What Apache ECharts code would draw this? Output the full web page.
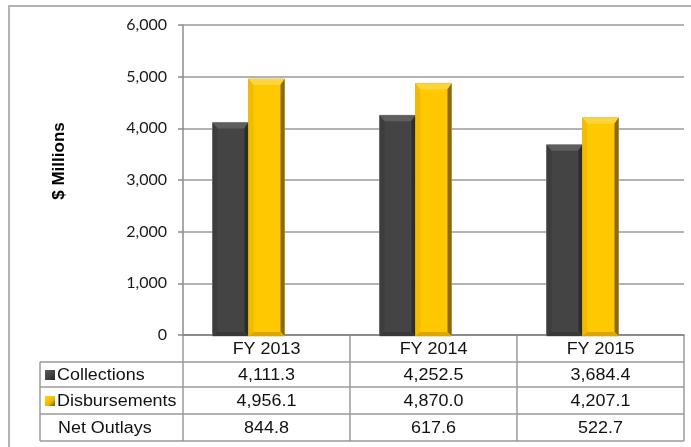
<!DOCTYPE html>
<html>
<head>
<meta charset="utf-8">
<script src="https://cdn.jsdelivr.net/npm/echarts@6/dist/echarts.min.js"></script>
<style>
  html, body { margin: 0; padding: 0; background: #ffffff; }
  #chart { width: 691px; height: 447px; }
</style>
</head>
<body>
<div id="chart"></div>
<script>
// Cash flows by fiscal year, $ millions
const categories = ['FY 2013', 'FY 2014', 'FY 2015'];
const collections = [4111.3, 4252.5, 3684.4];
const disbursements = [4956.1, 4870.0, 4207.1];
const netOutlays = [844.8, 617.6, 522.7];
const rowLabels = ['Collections', 'Disbursements', 'Net Outlays'];

const chart = echarts.init(document.getElementById('chart'), null, { renderer: 'canvas' });

const GRID = { left: 183, right: 7, top: 25, bottom: 112 };
const W = 691, H = 447;
const TABLE_FONT = '16px "Liberation Sans", Arial, sans-serif';
const STRETCH = 1.12;
const LINE = '#9a9a9a';
const BAR_W = 36;
const BEVEL = 5;

// bevelled column palettes: body, top, left, right, bottom, outline
const PALETTES = [
  { body: '#444444', top: '#5e5e5e', left: '#3d3d3d', right: '#2c2c2c', bottom: '#383838', edge: 'rgba(150,150,150,0.7)' },
  { body: '#ffc800', top: '#ffd53a', left: '#f2bb00', right: '#8c6a00', bottom: '#dca600', edge: 'rgba(175,155,95,0.6)' }
];

const fmtAxis = v => v.toLocaleString('en-US');
const fmtCell = v => v.toLocaleString('en-US', { minimumFractionDigits: 1, maximumFractionDigits: 1 });

// Columns sit left of the category centre, as on a receding floor:
// slot 0 spans [-1.5w, -0.5w], slot 1 spans [-0.5w, +0.5w].
function bevelBar(slot) {
  const p = PALETTES[slot];
  return function (params, api) {
    const base = api.coord([api.value(0), 0]);
    const top = api.coord([api.value(0), api.value(1)]);
    const x0 = base[0] - 1.5 * BAR_W + slot * BAR_W;
    const x1 = x0 + BAR_W;
    const ty = top[1], by = base[1] + 1;
    const b = BEVEL;
    const poly = (pts, fill) => ({ type: 'polygon', shape: { points: pts }, style: { fill: fill } });
    return {
      type: 'group',
      children: [
        { type: 'rect', shape: { x: x0, y: ty, width: BAR_W, height: by - ty },
          style: { fill: p.body, stroke: p.edge, lineWidth: 1 } },
        poly([[x0, ty], [x1, ty], [x1 - b, ty + b + 1], [x0 + b, ty + b + 1]], p.top),
        poly([[x0, ty], [x0 + b, ty + b + 1], [x0 + b, by - b + 1], [x0, by]], p.left),
        poly([[x1, ty], [x1, by], [x1 - b + 1, by - b + 1], [x1 - b + 1, ty + b + 1]], p.right),
        poly([[x0, by], [x0 + b, by - b + 1], [x1 - b, by - b + 1], [x1, by]], p.bottom)
      ]
    };
  };
}

chart.setOption({
  animation: false,
  backgroundColor: '#ffffff',
  grid: { left: GRID.left, right: GRID.right, top: GRID.top, bottom: GRID.bottom, containLabel: false },
  xAxis: {
    type: 'category',
    data: categories,
    axisLine: { show: true, lineStyle: { color: '#808080', width: 1.5 } },
    axisTick: { show: false },
    axisLabel: { show: false },
    splitLine: { show: false }
  },
  yAxis: {
    type: 'value',
    min: 0,
    max: 6000,
    interval: 1000,
    axisLine: { show: true, lineStyle: { color: '#8c8c8c', width: 1.5 } },
    axisTick: { show: true, length: 5, lineStyle: { color: '#8c8c8c', width: 1.5 } },
    axisLabel: {
      margin: 16,
      color: '#1a1a1a',
      fontSize: 16,
      fontFamily: 'Lato, "Liberation Sans", sans-serif',
      formatter: fmtAxis
    },
    splitLine: { show: true, lineStyle: { color: '#9a9a9a', width: 1.5 } }
  },
  series: [
    {
      name: 'Collections', type: 'custom', renderItem: bevelBar(0),
      encode: { x: 0, y: 1 }, z: 3,
      data: collections.map((v, i) => [i, v])
    },
    {
      name: 'Disbursements', type: 'custom', renderItem: bevelBar(1),
      encode: { x: 0, y: 1 }, z: 3,
      data: disbursements.map((v, i) => [i, v])
    }
  ]
});

function buildTable() {
  const g = [];
  const left = GRID.left, right = W - GRID.right;
  const y0 = H - GRID.bottom;            // axis baseline
  const rows = [y0, 362, 387, 414, 441];  // row edges
  const labelLeft = 40;
  const band = (right - left) / categories.length;

  // chart frame
  g.push({ type: 'rect', shape: { x: 9, y: 6, width: 720, height: 500 },
    style: { fill: 'none', stroke: '#b4b4b4', lineWidth: 2 }, silent: true });

  // horizontal rules
  for (let i = 1; i < rows.length; i++) {
    g.push({ type: 'line', shape: { x1: labelLeft, y1: rows[i], x2: right, y2: rows[i] },
      style: { stroke: LINE, lineWidth: 1.5 }, silent: true });
  }
  // vertical rules
  g.push({ type: 'line', shape: { x1: labelLeft, y1: rows[1], x2: labelLeft, y2: rows[4] },
    style: { stroke: LINE, lineWidth: 1.5 }, silent: true });
  for (let c = 0; c <= categories.length; c++) {
    const x = left + band * c;
    g.push({ type: 'line', shape: { x1: x, y1: y0, x2: x, y2: rows[4] },
      style: { stroke: LINE, lineWidth: 1.5 }, silent: true });
  }

  const cell = (text, x, y, align) => ({
    type: 'text', x: x, y: y, scaleX: STRETCH, silent: true,
    style: { text: text, font: TABLE_FONT, fill: '#111111', align: align, verticalAlign: 'middle' }
  });

  const mid = i => (rows[i] + rows[i + 1]) / 2;
  const columns = [collections, disbursements, netOutlays];

  categories.forEach((cat, c) => {
    const cx = chart.convertToPixel({ xAxisIndex: 0 }, cat);
    g.push(cell(cat, cx, mid(0) + 1, 'center'));
    columns.forEach((vals, r) => g.push(cell(fmtCell(vals[c]), cx, mid(r + 1) + 1, 'center')));
  });

  // row headers with legend keys
  g.push({ type: 'rect', shape: { x: 45, y: mid(1) - 4.5, width: 10, height: 10 },
    style: { fill: new echarts.graphic.LinearGradient(0, 0, 1, 1, [
      { offset: 0, color: '#5a5a5a' }, { offset: 0.5, color: '#444444' }, { offset: 1, color: '#262626' }
    ]) }, silent: true });
  g.push({ type: 'rect', shape: { x: 45, y: mid(2) - 4.5, width: 10, height: 10 },
    style: { fill: new echarts.graphic.LinearGradient(0, 0, 1, 1, [
      { offset: 0, color: '#ffd21a' }, { offset: 0.6, color: '#f0b800' }, { offset: 1, color: '#6e5200' }
    ]) }, silent: true });
  g.push(cell(rowLabels[0], 57, mid(1) + 1, 'left'));
  g.push(cell(rowLabels[1], 57, mid(2) + 1, 'left'));
  g.push(cell(rowLabels[2], 58, mid(3) + 1, 'left'));

  // axis title
  g.push({ type: 'text', x: 59, y: 161, rotation: Math.PI / 2, silent: true,
    style: { text: '$ Millions', font: 'bold 17px "Liberation Sans", Arial, sans-serif',
      fill: '#000000', align: 'center', verticalAlign: 'middle' } });

  chart.setOption({ graphic: { elements: g } });
}

buildTable();
</script>
</body>
</html>
